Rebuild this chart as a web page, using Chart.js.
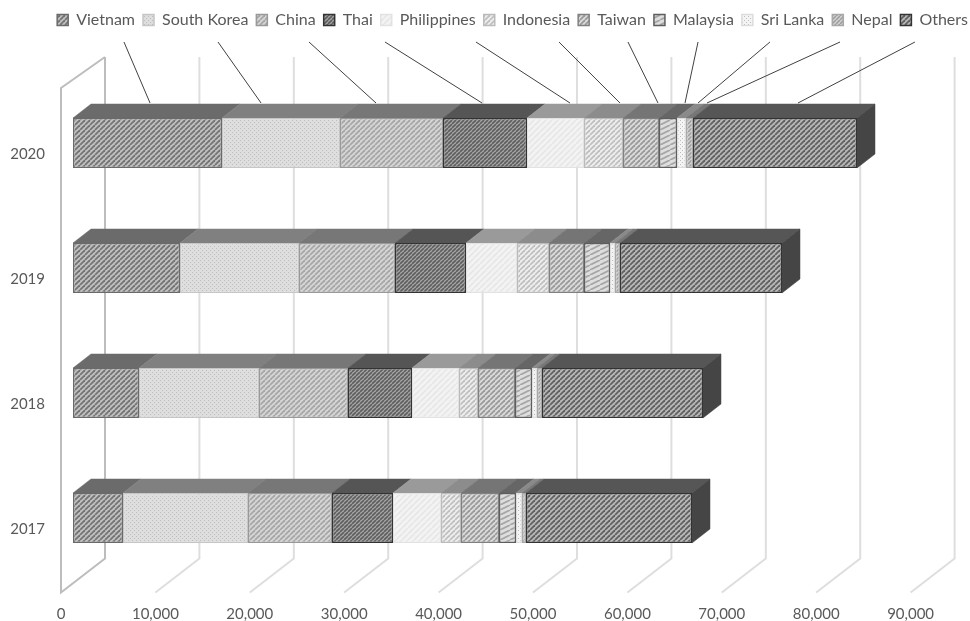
<!DOCTYPE html>
<html>
<head>
<meta charset="utf-8">
<style>
  body { margin: 0; background: #fff; }
  canvas { display: block; }
</style>
<script src="https://cdn.jsdelivr.net/npm/chart.js@4"></script>
</head>
<body>
<canvas id="myChart" width="970" height="621"></canvas>
<script>
// values per year, same order as the category axis
let years = ["2020", "2019", "2018", "2017"];
let vietnam = [15784, 11335, 6992, 5297];
let southKorea = [12500, 12606, 12711, 13241];
let china = [10911, 10169, 9428, 8898];
let thai = [8898, 7521, 6780, 6462];
let philippines = [6038, 5403, 4979, 5085];
let indonesia = [4132, 3390, 2013, 2119];
let taiwan = [3813, 3707, 3919, 4025];
let malaysia = [1907, 2755, 1801, 1801];
let sriLanka = [953, 529, 530, 636];
let nepal = [742, 530, 529, 423];
let others = [17373, 17161, 17055, 17585];
let xTicks = [0, 10000, 20000, 30000, 40000, 50000, 60000, 70000, 80000, 90000];

// callout lines from the legend row down to the top bar, in axis units
let leaderFrom = [5400, 15360, 25000, 33050, 42690, 51480, 58790, 66210, 73830, 81250, 89190];
let leaderTo = [8160, 19920, 32100, 43330, 52650, 57940, 61970, 64830, 66210, 67160, 76800];

const DEPTH_X = 18;
const DEPTH_Y = 14;
const WALL_X = 32;
const WALL_FRONT = 12;
const FLOOR_Y = 22;
const FLOOR_DROP = 34;
const WALL_TOP = 57;
const TEXT = "#595959";

function tile(w, h, paint) {
  let c = document.createElement("canvas");
  c.width = w;
  c.height = h;
  paint(c.getContext("2d"));
  return c.getContext("2d").createPattern(c, "repeat");
}

// diagonal stripes rising to the right
function hatch(bg, fg, w, h, lw) {
  return tile(w, h, g => {
    g.fillStyle = bg;
    g.fillRect(0, 0, w, h);
    g.strokeStyle = fg;
    g.lineWidth = lw;
    for (let k = -1; k <= 1; k++) {
      g.beginPath();
      g.moveTo(k * w, h);
      g.lineTo(k * w + w, 0);
      g.stroke();
    }
  });
}

function dots(bg, fg, p) {
  return tile(p, p, g => {
    g.fillStyle = bg;
    g.fillRect(0, 0, p, p);
    g.fillStyle = fg;
    g.fillRect(0, 0, 1, 1);
    g.fillRect(p / 2, p / 2, 1, 1);
  });
}

let series = [
  { label: "Vietnam", data: vietnam, fill: hatch("#c0c0c0", "#747474", 5, 5, 1.8), border: "#6a6a6a", top: "#6b6b6b" },
  { label: "South Korea", data: southKorea, fill: dots("#dedede", "#bdbdbd", 4), border: "#c6c6c6", top: "#808080" },
  { label: "China", data: china, fill: hatch("#d6d6d6", "#a6a6a6", 5, 5, 1.8), border: "#999999", top: "#777777" },
  { label: "Thai", data: thai, fill: hatch("#a6a6a6", "#5e5e5e", 4, 4, 1.6), border: "#333333", top: "#555555" },
  { label: "Philippines", data: philippines, fill: hatch("#f3f3f3", "#e6e6e6", 6, 6, 1.6), border: "#e2e2e2", top: "#9a9a9a" },
  { label: "Indonesia", data: indonesia, fill: hatch("#efefef", "#bfbfbf", 5, 5, 1.8), border: "#bbbbbb", top: "#8c8c8c" },
  { label: "Taiwan", data: taiwan, fill: hatch("#dbdbdb", "#9a9a9a", 5, 5, 1.8), border: "#808080", top: "#757575" },
  { label: "Malaysia", data: malaysia, fill: hatch("#dedede", "#a6a6a6", 10, 5, 1.8), border: "#5e5e5e", top: "#666666" },
  { label: "Sri Lanka", data: sriLanka, fill: dots("#f4f4f4", "#bcbcbc", 4), border: "#dddddd", top: "#8a8a8a" },
  { label: "Nepal", data: nepal, fill: hatch("#d2d2d2", "#9c9c9c", 4, 4, 1.5), border: "#a8a8a8", top: "#777777" },
  { label: "Others", data: others, fill: hatch("#b8b8b8", "#606060", 5, 5, 1.8), border: "#333333", top: "#565656" }
];

function poly(ctx, pts, fill, stroke) {
  ctx.beginPath();
  pts.forEach((p, i) => i ? ctx.lineTo(p[0], p[1]) : ctx.moveTo(p[0], p[1]));
  ctx.closePath();
  if (fill) {
    ctx.fillStyle = fill;
    ctx.fill();
  }
  if (stroke) {
    ctx.strokeStyle = stroke;
    ctx.stroke();
  }
}

// keeps the legend row tall enough to leave room for the callouts
let legendRoom = {
  id: "legendRoom",
  beforeLayout(chart) {
    let legend = chart.legend;
    let fit = legend.fit;
    legend.fit = function() {
      fit.call(legend);
      legend.height = 76.5;
    };
  }
};

// back wall, floor lines and side wall behind the bars
let walls = {
  id: "walls",
  beforeDatasetsDraw(chart) {
    let ctx = chart.ctx;
    let x = chart.scales.x;
    let floor = chart.chartArea.bottom - FLOOR_Y;
    ctx.save();
    ctx.lineWidth = 2;
    xTicks.forEach(t => {
      let back = x.getPixelForValue(t) + WALL_X;
      let front = back - WALL_X - WALL_FRONT;
      ctx.strokeStyle = t === 0 ? "#bdbdbd" : "#dedede";
      ctx.beginPath();
      ctx.moveTo(back, WALL_TOP);
      ctx.lineTo(back, floor);
      ctx.lineTo(front, floor + FLOOR_DROP);
      if (t === 0) {
        ctx.lineTo(front, WALL_TOP + 31);
        ctx.lineTo(back, WALL_TOP);
      }
      ctx.stroke();
    });
    ctx.restore();
  }
};

// top and end faces of the stacked bars
let bar3d = {
  id: "bar3d",
  beforeDatasetsDraw(chart) {
    let ctx = chart.ctx;
    ctx.save();
    ctx.lineWidth = 0.5;
    series.forEach((s, i) => {
      chart.getDatasetMeta(i).data.forEach(bar => {
        let top = bar.y - bar.height / 2;
        poly(ctx, [
          [bar.base, top],
          [bar.x, top],
          [bar.x + DEPTH_X, top - DEPTH_Y],
          [bar.base + DEPTH_X, top - DEPTH_Y]
        ], s.top, s.top);
        if (i === series.length - 1) {
          poly(ctx, [
            [bar.x, top],
            [bar.x + DEPTH_X, top - DEPTH_Y],
            [bar.x + DEPTH_X, top + bar.height - DEPTH_Y],
            [bar.x, top + bar.height]
          ], "#454545", "#454545");
        }
      });
    });
    ctx.restore();
  }
};

let leaders = {
  id: "leaders",
  afterDatasetsDraw(chart) {
    let ctx = chart.ctx;
    let x = chart.scales.x;
    let firstBar = chart.getDatasetMeta(0).data[0];
    let endY = firstBar.y - firstBar.height / 2 - DEPTH_Y - 1;
    ctx.save();
    ctx.strokeStyle = "#404040";
    ctx.lineWidth = 1;
    leaderFrom.forEach((v, i) => {
      ctx.beginPath();
      ctx.moveTo(x.getPixelForValue(v), 42);
      ctx.lineTo(x.getPixelForValue(leaderTo[i]), endY);
      ctx.stroke();
    });
    ctx.restore();
  }
};

let ctx = document.getElementById("myChart").getContext("2d");
let myChart = new Chart(ctx, {
  type: "bar",
  data: {
    labels: years,
    datasets: series.map(s => ({
      label: s.label,
      data: s.data,
      backgroundColor: s.fill,
      borderColor: s.border,
      borderWidth: 1.5,
      borderSkipped: false,
      barPercentage: 0.4,
      categoryPercentage: 1
    }))
  },
  plugins: [legendRoom, walls, bar3d, leaders],
  options: {
    indexAxis: "y",
    responsive: false,
    animation: false,
    layout: { padding: { top: 4, right: -6, bottom: 0, left: 0 } },
    plugins: {
      tooltip: { enabled: false },
      legend: {
        position: "top",
        align: "end",
        labels: {
          boxWidth: 11,
          boxHeight: 11,
          padding: 8,
          color: TEXT,
          font: { family: "Lato", size: 16 }
        }
      }
    },
    scales: {
      x: {
        stacked: true,
        min: 0,
        max: 95020,
        grid: { display: false },
        border: { display: false },
        afterFit: scale => { scale.height = 40.5; },
        afterBuildTicks: scale => { scale.ticks = xTicks.map(v => ({ value: v })); },
        ticks: {
          padding: 16.5,
          labelOffset: -12,
          maxRotation: 0,
          autoSkip: false,
          color: TEXT,
          font: { family: "Lato", size: 15 },
          callback: v => v.toLocaleString("en-US")
        }
      },
      y: {
        stacked: true,
        grid: { display: false },
        border: { display: false },
        afterFit: scale => { scale.width = 73; },
        ticks: {
          padding: 20,
          labelOffset: 11.5,
          color: TEXT,
          font: { family: "Lato", size: 15 }
        }
      }
    }
  }
});
</script>
</body>
</html>
